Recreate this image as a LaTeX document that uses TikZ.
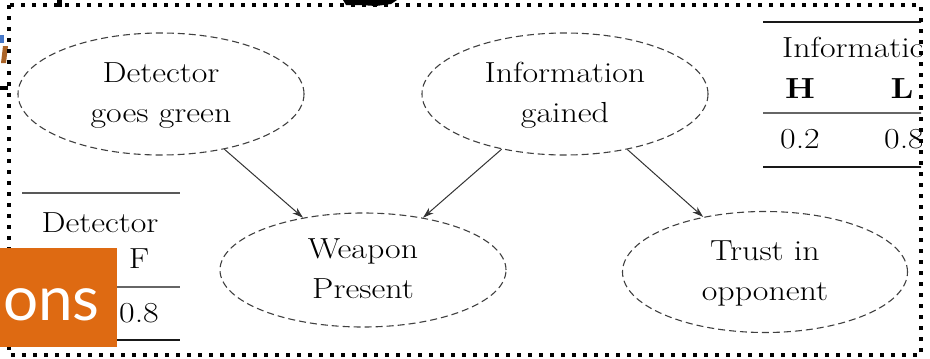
\documentclass[tikz,border=0pt]{standalone}
\usepackage{fontspec}
\newfontfamily\slidefont{Lato}
\usetikzlibrary{shapes.geometric,arrows.meta}

\definecolor{slideorange}{RGB}{222,106,18}
\definecolor{fragblue}{RGB}{70,120,200}
\definecolor{fragbrown}{RGB}{170,100,40}

% text set a little wider than the font's natural width
\newcommand\wtext[1]{\scalebox{1.17}[1]{\begin{tabular}{@{}c@{}}#1\end{tabular}}}

\tikzset{
  bnode/.style={ellipse, draw=black!75, line width=1.1pt,
    dash pattern=on 7pt off 4pt, inner sep=0pt, align=center,
    minimum width=286pt, minimum height=122pt,
    font=\fontsize{29}{40}\selectfont},
  link/.style={-{Stealth[length=11pt,width=7pt]}, line width=1pt, draw=black!80},
  celltext/.style={inner sep=0pt, anchor=base, font=\fontsize{29}{35}\selectfont},
  heavyrule/.style={line width=2.3pt, draw=black!90},
  lightrule/.style={line width=1.4pt, draw=black!60},
  frame/.style={line width=4pt, dash pattern=on 4pt off 7pt, draw=black}
}

\begin{document}
\begin{tikzpicture}[x=1pt, y=-1pt]
  \useasboundingbox (0,0) rectangle (930,359);

  % network nodes
  \node[bnode] (det) at (161,94) {\wtext{Detector\\goes green}};
  \node[bnode] (info) at (565,94) {\wtext{Information\\gained}};
  \node[bnode, minimum height=114pt] (weap) at (363,270) {\wtext{Weapon\\Present}};
  \node[bnode, minimum width=285pt, minimum height=121pt] (trust) at (765,272) {\wtext{Trust in\\opponent}};

  % dependencies
  \draw[link] (det) -- (weap);
  \draw[link] (info) -- (weap);
  \draw[link] (info) -- (trust);

  % prior table for the information node (runs past the frame)
  \begin{scope}
    \clip (0,0) rectangle (921,359);
    \draw[heavyrule] (763,22) coordinate (rtA) -- (980,22) coordinate (rtB);
    \node[celltext, anchor=base west] (rthead) at (782,57) {\wtext{Information}};
    \node[celltext] (rtH) at (800,98) {\wtext{\textbf{H}}};
    \node[celltext] (rtL) at (902,98) {\wtext{\textbf{L}}};
    \draw[lightrule] (763,113) coordinate (rmA) -- (980,113) coordinate (rmB);
    \node[celltext] (rtvH) at (800,148) {\wtext{0.2}};
    \node[celltext] (rtvL) at (904,148) {\wtext{0.8}};
    \draw[heavyrule] (763,167) coordinate (rbA) -- (980,167) coordinate (rbB);
  \end{scope}

  % prior table for the detector node
  \draw[heavyrule, draw=black!65, line width=2pt] (22,193) coordinate (ltA) -- (180,193) coordinate (ltB);
  \node[celltext] (lthead) at (100,232) {\wtext{Detector}};
  \node[celltext] (ltT) at (61,268) {\wtext{\textbf{T}}};
  \node[celltext] (ltF) at (139,268) {\wtext{F}};
  \draw[lightrule] (22,287) coordinate (lmA) -- (180,287) coordinate (lmB);
  \node[celltext] (ltvT) at (61,322) {\wtext{0.2}};
  \node[celltext] (ltvF) at (139,322) {\wtext{0.8}};
  \draw[heavyrule] (22,340) coordinate (lbA) -- (180,340) coordinate (lbB);

  % pieces of neighbouring slide text
  \fill[black] (57,0) rectangle (62,7);
  \fill[black] (343,0) -- (397,0) -- (391,4) -- (376,6) -- (360,5) -- (346,5) -- cycle;
  \fill[fragblue] (0,35) rectangle (4,43);
  \fill[fragbrown] (3,46) -- (8,46) -- (6,63) -- (1,63) -- cycle;
  \fill[black] (0,86) rectangle (8,90);

  % dotted frame
  \draw[frame] (9,5) rectangle (921,355);

  % orange label box
  \fill[slideorange] (0,248) rectangle (117,347);
  \node[inner sep=0pt, anchor=base west, text=white, font=\slidefont\fontsize{62}{62}\selectfont]
    (lbl) at (3,320) {ons};
\end{tikzpicture}
\end{document}
